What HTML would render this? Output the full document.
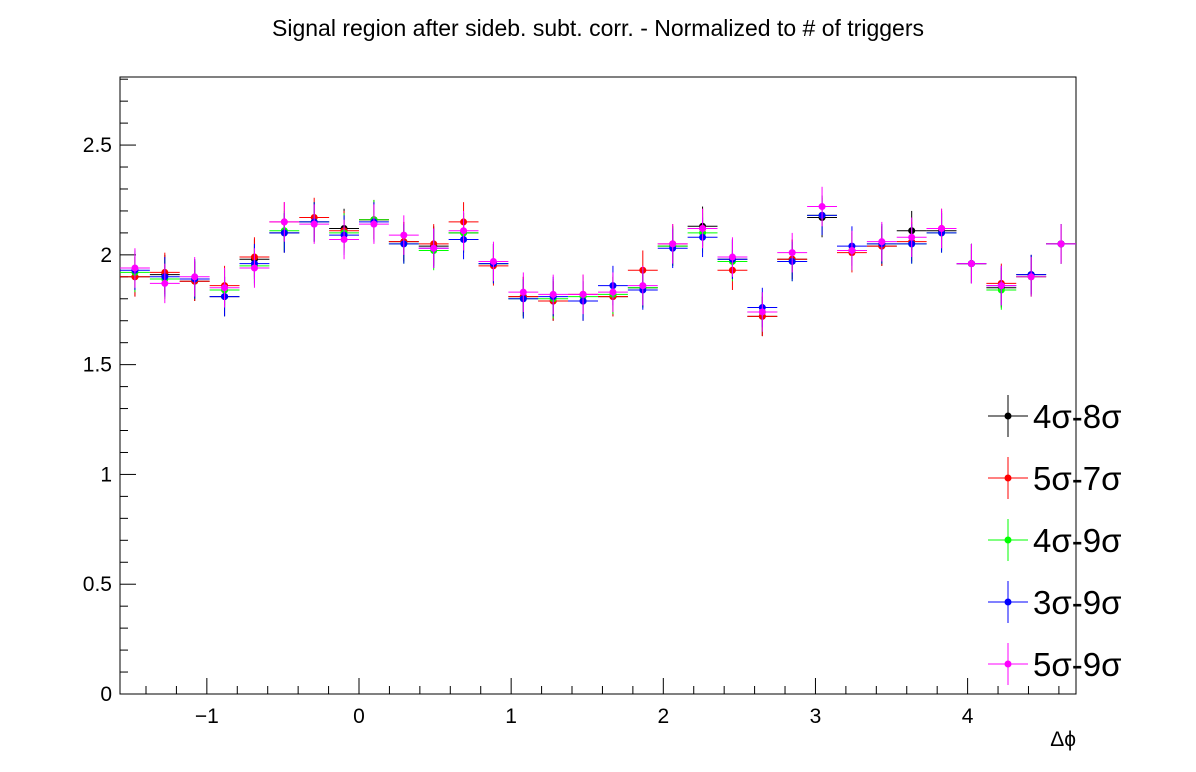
<!DOCTYPE html>
<html><head><meta charset="utf-8"><style>
body{margin:0;background:#fff;}
svg{display:block;font-family:"Liberation Sans",sans-serif;}
</style></head><body>
<svg id="c" width="1196" height="772"></svg>
<script>
const blackVals=[1.90,1.91,1.88,1.81,1.98,2.10,2.15,2.12,2.16,2.06,2.04,2.10,1.96,1.81,1.79,1.79,1.81,1.85,2.04,2.13,1.98,1.72,1.98,2.17,2.02,2.04,2.11,2.11,1.96,1.85,1.91,2.05];
const redVals=[1.90,1.92,1.88,1.86,1.99,2.15,2.17,2.11,2.16,2.06,2.05,2.15,1.95,1.81,1.79,1.82,1.81,1.93,2.05,2.12,1.93,1.72,1.98,2.18,2.01,2.04,2.06,2.12,1.96,1.87,1.90,2.05];
const greenVals=[1.92,1.89,1.89,1.84,1.95,2.11,2.15,2.10,2.16,2.05,2.02,2.10,1.96,1.80,1.80,1.81,1.82,1.85,2.04,2.10,1.97,1.74,1.97,2.18,2.02,2.05,2.05,2.10,1.96,1.84,1.90,2.05];
const blueVals=[1.93,1.90,1.89,1.81,1.96,2.10,2.15,2.09,2.15,2.05,2.03,2.07,1.96,1.80,1.81,1.79,1.86,1.84,2.03,2.08,1.98,1.76,1.97,2.18,2.04,2.05,2.05,2.10,1.96,1.86,1.91,2.05];
const magentaVals=[1.94,1.87,1.90,1.85,1.94,2.15,2.14,2.07,2.14,2.09,2.03,2.11,1.97,1.83,1.82,1.82,1.83,1.86,2.05,2.12,1.99,1.74,2.01,2.22,2.02,2.06,2.08,2.12,1.96,1.86,1.90,2.05];
const seriesNames=["4σ-8σ","5σ-7σ","4σ-9σ","3σ-9σ","5σ-9σ"];
const seriesColors=["#000000","#ff0000","#00ff00","#0000ff","#ff00ff"];
const yTicks=[0,0.5,1,1.5,2,2.5];
const yTickLabels=["0","0.5","1","1.5","2","2.5"];
const xTicks=[-1,0,1,2,3,4];
const xTickLabels=["−1","0","1","2","3","4"];
const errVals=[0.09,0.09,0.09,0.09,0.09];

const NS="http://www.w3.org/2000/svg";
const svg=document.getElementById('c');
const L=120,R=1076,T=77,B=694;
const xmin=-Math.PI/2,xmax=3*Math.PI/2,ymin=0,ymax=2.81;
const X=v=>L+(v-xmin)/(xmax-xmin)*(R-L);
const Y=v=>B-(v-ymin)/(ymax-ymin)*(B-T);
function el(t,a,p){const e=document.createElementNS(NS,t);for(const k in a)e.setAttribute(k,a[k]);(p||svg).appendChild(e);return e;}

const title=el('text',{x:598,y:36,'text-anchor':'middle','font-size':23});
title.textContent="Signal region after sideb. subt. corr. - Normalized to # of triggers";



const frame=el('rect',{x:L,y:T,width:R-L,height:B-T,fill:'none',stroke:'#000','stroke-width':1});



const yax=el('g',{});


for(let v=0;v<=2.8001;v+=0.1){const y=Y(v);const maj=Math.abs(v*2-Math.round(v*2))<1e-6;el('line',{x1:L,x2:L+(maj?16:8),y1:y,y2:y,stroke:'#000'},yax);}
yTicks.forEach((v,i)=>{const t=el('text',{x:L-8,y:Y(v)+7,'text-anchor':'end','font-size':21},yax);t.textContent=yTickLabels[i];

});

const xax=el('g',{});


for(let k=-7;k<=23;k++){const v=k*0.2;if(v<xmin||v>xmax)continue;const x=X(v);const maj=k%5===0;el('line',{x1:x,x2:x,y1:B,y2:B-(maj?16:8),stroke:'#000'},xax);}
xTicks.forEach((v,i)=>{const t=el('text',{x:X(v),y:B+29,'text-anchor':'middle','font-size':21},xax);t.textContent=xTickLabels[i];

});
const xt=el('text',{x:1076,y:746,'text-anchor':'end','font-size':21});xt.textContent="Δϕ";



const all=[blackVals,redVals,greenVals,blueVals,magentaVals];
const bw=(xmax-xmin)/32;
all.forEach((vals,s)=>{
  const g=el('g',{});
  
  
  vals.forEach((v,i)=>{
    const c=xmin+(i+0.5)*bw;const x=X(c),y=Y(v);
    el('line',{x1:X(c-bw/2),x2:X(c+bw/2),y1:y,y2:y,stroke:seriesColors[s],'stroke-width':1},g);
    el('line',{x1:x,x2:x,y1:Y(v+errVals[s]),y2:Y(v-errVals[s]),stroke:seriesColors[s],'stroke-width':1},g);
    const p=el('circle',{cx:x,cy:y,r:3.5,fill:seriesColors[s]},g);
    
    
  });
});

seriesNames.forEach((n,s)=>{
  const y=416+s*62;
  const g=el('g',{});
  
  
  el('line',{x1:988,x2:1028,y1:y,y2:y,stroke:seriesColors[s]},g);
  el('line',{x1:1008,x2:1008,y1:y-21,y2:y+21,stroke:seriesColors[s]},g);
  el('circle',{cx:1008,cy:y,r:3.5,fill:seriesColors[s]},g);
  const t=el('text',{x:1033,y:y+12,'font-size':33},g);t.textContent=n;
});
</script>
</body></html>
